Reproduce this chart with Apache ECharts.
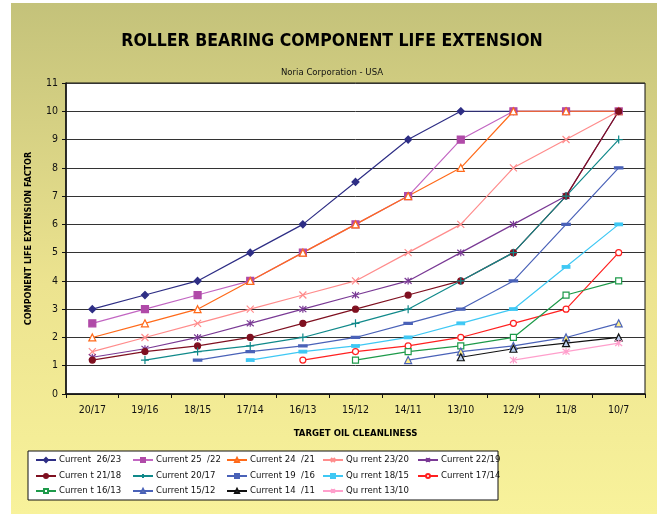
<!DOCTYPE html>
<html>
<head>
<meta charset="utf-8">
<script src="https://cdn.jsdelivr.net/npm/echarts@6/dist/echarts.min.js"></script>
<style>
  html, body { margin: 0; padding: 0; background: #fff; }
  #chart { width: 664px; height: 514px; }
</style>
</head>
<body>
<div id="chart"></div>
<script>
// target oil cleanliness (x axis)
const categories = ['20/17', '19/16', '18/15', '17/14', '16/13', '15/12', '14/11', '13/10', '12/9', '11/8', '10/7'];

// life extension factor per current cleanliness level
const c2623 = [3, 3.5, 4, 5, 6, 7.5, 9, 10, 10, 10, 10];
const c2522 = [2.5, 3, 3.5, 4, 5, 6, 7, 9, 10, 10, 10];
const c2421 = [2, 2.5, 3, 4, 5, 6, 7, 8, 10, 10, 10];
const c2320 = [1.5, 2, 2.5, 3, 3.5, 4, 5, 6, 8, 9, 10];
const c2219 = [1.3, 1.6, 2, 2.5, 3, 3.5, 4, 5, 6, 7, 10];
const c2118 = [1.2, 1.5, 1.7, 2, 2.5, 3, 3.5, 4, 5, 7, 10];
const c2017 = [null, 1.2, 1.5, 1.7, 2, 2.5, 3, 4, 5, 7, 9];
const c1916 = [null, null, 1.2, 1.5, 1.7, 2, 2.5, 3, 4, 6, 8];
const c1815 = [null, null, null, 1.2, 1.5, 1.7, 2, 2.5, 3, 4.5, 6];
const c1714 = [null, null, null, null, 1.2, 1.5, 1.7, 2, 2.5, 3, 5];
const c1613 = [null, null, null, null, null, 1.2, 1.5, 1.7, 2, 3.5, 4];
const c1512 = [null, null, null, null, null, null, 1.2, 1.5, 1.7, 2, 2.5];
const c1411 = [null, null, null, null, null, null, null, 1.3, 1.6, 1.8, 2];
const c1310 = [null, null, null, null, null, null, null, null, 1.2, 1.5, 1.8];

const seriesNames = ['Current  26/23', 'Current 25  /22', 'Current 24  /21', 'Qu rrent 23/20', 'Current 22/19',
  'Curren t 21/18', 'Current 20/17', 'Current 19  /16', 'Qu rrent 18/15', 'Current 17/14',
  'Curren t 16/13', 'Current 15/12', 'Current 14  /11', 'Qu rrent 13/10'];
const seriesData = [c2623, c2522, c2421, c2320, c2219, c2118, c2017, c1916, c1815, c1714, c1613, c1512, c1411, c1310];

const FONT = "'Liberation Sans Narrow', 'DejaVu Sans Condensed', 'Liberation Sans', sans-serif";
const cross = 'path://M0,0L10,10M10,0L0,10';
const star = 'path://M0,0L10,10M10,0L0,10M5,-1L5,11';
const plus = 'path://M5,0L5,10M0,5L10,5';

// look of each series: [line colour, symbol, size, fill, border]
const looks = [
  ['#2e2e85', 'diamond', 7, '#2e2e85', '#2e2e85'],
  ['#c266c2', 'rect', 7, '#b04aa8', '#b04aa8'],
  ['#ff6a1a', 'triangle', 7, '#fff', '#ff6a1a'],
  ['#ff8c8c', cross, 7, 'none', '#ff8c8c'],
  ['#7a3a95', star, 7, 'none', '#7a3a95'],
  ['#7f1020', 'circle', 6, '#7f1020', '#7f1020'],
  ['#10898a', plus, 8, 'none', '#10898a'],
  ['#4a62b8', 'rect', [6, 2], '#4a62b8', '#4a62b8'],
  ['#3fc8f4', 'rect', [7, 3], '#3fc8f4', '#3fc8f4'],
  ['#ff2020', 'circle', 6, '#fff', '#ff2020'],
  ['#1e9a4a', 'rect', 6, '#fff', '#1e9a4a'],
  ['#4a62b8', 'triangle', 7, '#ffee88', '#4a62b8'],
  ['#111111', 'triangle', 7, '#bcd0ee', '#111111'],
  ['#ff9fcc', star, 7, 'none', '#ff9fcc']
];

const series = seriesNames.map((name, i) => {
  const lk = looks[i];
  return {
    name: name,
    type: 'line',
    data: seriesData[i],
    symbol: lk[1],
    symbolSize: lk[2],
    showAllSymbol: true,
    lineStyle: { color: lk[0], width: 1.2 },
    itemStyle: { color: lk[3], borderColor: lk[4], borderWidth: 1.2 },
    emphasis: { disabled: true }
  };
});

// legend: 5 columns x 3 rows, one legend component per entry
const colX = [35, 132, 226, 322, 417];
const rowY = [455, 471, 486];
const legends = seriesNames.map((name, i) => ({
  data: [name],
  left: colX[i % 5],
  top: rowY[Math.floor(i / 5)],
  itemWidth: 20,
  itemHeight: 5,
  itemGap: 0,
  textStyle: { fontFamily: FONT, fontSize: 9.5, color: '#111', padding: [0, 0, 0, -2] },
  selectedMode: false,
  padding: 0
}));

const chart = echarts.init(document.getElementById('chart'));
chart.setOption({
  backgroundColor: '#fff',
  animation: false,
  graphic: [
    {
      type: 'rect', z: -10, silent: true,
      shape: { x: 11, y: 3, width: 646, height: 511 },
      style: {
        fill: new echarts.graphic.LinearGradient(0, 0, 0, 1, [
          { offset: 0, color: '#c4c27a' },
          { offset: 0.55, color: '#ece38f' },
          { offset: 1, color: '#f8f29b' }
        ])
      }
    },
    {
      type: 'rect', z: -5, silent: true,
      shape: { x: 28, y: 451, width: 470, height: 49 },
      style: { fill: '#fff', stroke: '#111', lineWidth: 1 }
    }
  ],
  title: [
    {
      text: 'ROLLER BEARING COMPONENT LIFE EXTENSION',
      left: 'center', top: 27,
      textStyle: { fontFamily: FONT, fontSize: 17.5, fontWeight: 'bold', color: '#000' }
    },
    {
      text: 'Noria Corporation - USA',
      left: 'center', top: 63,
      textStyle: { fontFamily: FONT, fontSize: 9.5, fontWeight: 'normal', color: '#111' }
    }
  ],
  legend: legends,
  grid: {
    left: 66, right: 19, top: 83, bottom: 120,
    show: true, backgroundColor: '#fff', borderColor: '#111', borderWidth: 1
  },
  xAxis: {
    type: 'category',
    data: categories,
    boundaryGap: true,
    name: 'TARGET OIL CLEANLINESS',
    nameLocation: 'middle',
    nameGap: 35,
    nameTextStyle: { fontFamily: FONT, fontSize: 9.5, fontWeight: 'bold', color: '#000' },
    axisLine: { lineStyle: { color: '#111', width: 1.5 } },
    axisTick: { show: true, inside: false, length: 4, lineStyle: { color: '#111' } },
    axisLabel: { fontFamily: FONT, fontSize: 10.5, color: '#111', margin: 11 },
    splitLine: { show: false }
  },
  yAxis: {
    type: 'value',
    min: 0, max: 11, interval: 1,
    name: 'COMPONENT LIFE EXTENSION FACTOR',
    nameLocation: 'middle',
    nameGap: 33,
    nameTextStyle: { fontFamily: FONT, fontSize: 9, fontWeight: 'bold', color: '#000' },
    axisLine: { show: true, lineStyle: { color: '#111', width: 1.5 } },
    axisTick: { show: true, inside: false, length: 4, lineStyle: { color: '#111' } },
    axisLabel: { fontFamily: FONT, fontSize: 10.5, color: '#111', margin: 8 },
    splitLine: { show: true, lineStyle: { color: '#333', width: 1 } }
  },
  series: series
});
</script>
</body>
</html>
